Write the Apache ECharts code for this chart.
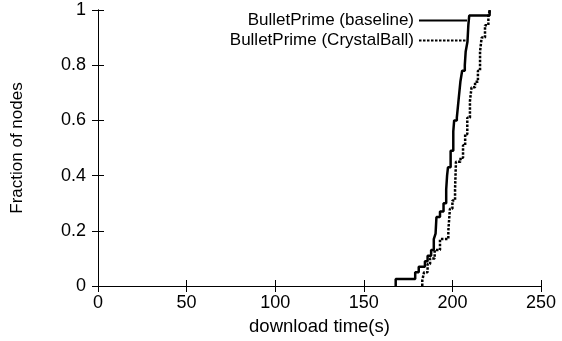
<!DOCTYPE html>
<html>
<head>
<meta charset="utf-8">
<script src="https://cdn.jsdelivr.net/npm/echarts@6/dist/echarts.min.js"></script>
<style>
  html, body { margin: 0; padding: 0; background: #fff; }
  #chart { width: 562px; height: 341px; }
</style>
</head>
<body>
<div id="chart"></div>
<script>
// download time (s) vs. fraction of nodes
var baselineTime = [168, 168, 179, 181, 184.5, 186, 188, 189.5, 190.5, 191, 193, 195, 196.5, 197, 197.5, 199, 200.5, 201, 202.5, 203.5, 204.5, 205.5, 207, 207.5, 208.5, 209, 209.5, 221];
var baselineFrac = [0, 0.025, 0.05, 0.07, 0.09, 0.11, 0.13, 0.17, 0.19, 0.25, 0.27, 0.30, 0.35, 0.40, 0.43, 0.49, 0.56, 0.60, 0.61, 0.675, 0.74, 0.78, 0.80, 0.85, 0.885, 0.945, 0.98, 1.0];

var crystalTime = [183, 183, 184, 186, 187.4, 190, 193, 197.7, 198.6, 200, 201.5, 202, 204.6, 206, 207.2, 208.4, 209.9, 210.8, 212.8, 214.4, 215.6, 216.5, 218.4, 220.3, 221.2];
var crystalFrac = [0, 0.02, 0.05, 0.08, 0.10, 0.13, 0.17, 0.20, 0.28, 0.31, 0.35, 0.45, 0.465, 0.51, 0.55, 0.61, 0.67, 0.72, 0.74, 0.78, 0.85, 0.90, 0.945, 0.98, 1.0];

var seriesNames = ['BulletPrime (baseline)', 'BulletPrime (CrystalBall)'];

function pairs(xs, ys) {
  var out = [];
  for (var i = 0; i < xs.length; i++) {
    out.push([xs[i], ys[i]]);
  }
  return out;
}

var myChart = echarts.init(document.getElementById('chart'), null, { renderer: 'canvas' });
var font = 'Liberation Sans, Arial, Helvetica, sans-serif';

var tickStyle = { inside: true, length: 6, lineStyle: { color: '#000', width: 1 } };
var lineStyle = { show: true, lineStyle: { color: '#000', width: 1 } };

var option = {
  animation: false,
  backgroundColor: '#fff',
  textStyle: { fontFamily: font, color: '#000' },
  grid: { left: 98, right: 21, top: 10, bottom: 54 },
  legend: {
    orient: 'vertical',
    align: 'right',
    right: 94,
    top: 12,
    padding: 0,
    itemGap: 3,
    itemWidth: 48,
    itemHeight: 15,
    data: seriesNames,
    itemStyle: { opacity: 0, borderWidth: 0 },
    textStyle: { fontFamily: font, fontSize: 17, color: '#000' }
  },
  xAxis: [{
    type: 'value',
    min: 0, max: 250, interval: 50,
    name: 'download time(s)',
    nameLocation: 'middle',
    nameGap: 31,
    nameTextStyle: { fontFamily: font, fontSize: 18.5, color: '#000' },
    axisLine: lineStyle,
    axisTick: tickStyle,
    splitLine: { show: false },
    axisLabel: { margin: 8, fontFamily: font, fontSize: 18, color: '#000' }
  }, {
    type: 'value',
    position: 'top',
    min: 0, max: 250, interval: 50,
    axisLine: lineStyle,
    axisTick: tickStyle,
    splitLine: { show: false },
    axisLabel: { show: false }
  }],
  yAxis: [{
    type: 'value',
    min: 0, max: 1, interval: 0.2,
    name: 'Fraction of nodes',
    nameLocation: 'middle',
    nameRotate: 90,
    nameGap: 72,
    nameTextStyle: { fontFamily: font, fontSize: 17, color: '#000' },
    axisLine: lineStyle,
    axisTick: tickStyle,
    splitLine: { show: false },
    axisLabel: { margin: 12, fontFamily: font, fontSize: 18, color: '#000' }
  }, {
    type: 'value',
    position: 'right',
    min: 0, max: 1, interval: 0.2,
    axisLine: lineStyle,
    axisTick: tickStyle,
    splitLine: { show: false },
    axisLabel: { show: false }
  }],
  series: [{
    name: seriesNames[0],
    type: 'line',
    step: 'end',
    showSymbol: false,
    symbol: 'none',
    color: '#000',
    lineStyle: { color: '#000', width: 2.5 },
    data: pairs(baselineTime, baselineFrac)
  }, {
    name: seriesNames[1],
    type: 'line',
    step: 'end',
    showSymbol: false,
    symbol: 'none',
    color: '#000',
    lineStyle: { color: '#000', width: 2.5, type: [2.5, 1.5] },
    data: pairs(crystalTime, crystalFrac)
  }]
};

myChart.setOption(option);
</script>
</body>
</html>
